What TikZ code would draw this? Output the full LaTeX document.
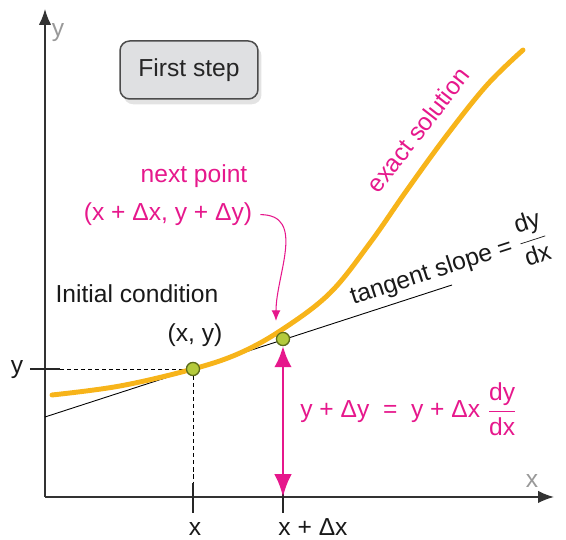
\documentclass[tikz,border=0pt]{standalone}
\usepackage{fontspec}
\setmainfont{Liberation Sans}
\usetikzlibrary{arrows.meta,shadows}

\definecolor{solorange}{HTML}{F7B41A}
\definecolor{notemagenta}{HTML}{E6188C}
\definecolor{dotgreen}{HTML}{B4CA3C}
\definecolor{dotedge}{HTML}{5C6C1A}
\definecolor{boxgray}{HTML}{DFE0E2}

\begin{document}
\begin{tikzpicture}[
	x=0.02cm, y=0.02cm,
	font=\fontsize{14}{17}\selectfont,
	txt/.style={inner sep=0pt, text=black!90},
	pinktxt/.style={inner sep=0pt, text=notemagenta},
	axislabel/.style={inner sep=0pt, text=black!40},
	axis/.style={-{Latex[length=9pt,width=7pt]}, line width=0.9pt, draw=black!80},
	tick/.style={line width=1.6pt, draw=black!85},
	guide/.style={line width=0.5pt, dash pattern=on 2.3pt off 1.7pt},
	tangent/.style={line width=0.5pt},
	exact/.style={line width=2.8pt, draw=solorange, line cap=round},
	dot/.style={circle, draw=dotedge, fill=dotgreen, line width=0.7pt, minimum size=0.26cm, inner sep=0pt},
	stepbox/.style={
		rectangle,
		rounded corners=5.5pt,
		draw=black!70,
		fill=boxgray,
		line width=0.85pt,
		minimum width=2.76cm,
		minimum height=1.16cm,
		text=black!85,
		drop shadow={opacity=0.22, shadow xshift=2pt, shadow yshift=-3pt}
	},
	deltaarrow/.style={{Latex[length=12pt,width=10pt]}-{Latex[length=13pt,width=10pt]}, line width=1.7pt, draw=notemagenta},
	nextarrow/.style={-{Latex[length=6pt,width=5pt]}, line width=0.6pt, draw=notemagenta}
]
\useasboundingbox (0,0) rectangle (566,540);

% Ejes
\coordinate (O) at (45,43);
\coordinate (ytop) at (45,531);
\coordinate (xend) at (554,43);
\draw[axis] (O) -- (ytop);
\draw[axis] (O) -- (xend);
\node[axislabel, anchor=base] (ylab) at (58,503) {y};
\node[axislabel, anchor=base] (xlab) at (532,52) {x};

% Caja del paso
\node[stepbox] (first) at (189,470) {First step};

% Recta tangente
\coordinate (tl) at (45,123);
\coordinate (tr) at (452,255);
\draw[tangent] (tl) -- (tr);

% Puntos
\node[dot] (A) at (193,171) {};
\node[dot] (B) at (283,201) {};
\coordinate (Ay) at (60,171);
\coordinate (Ax) at (193,57);
\coordinate (Bx) at (283,43);

% Lineas guia
\draw[guide] (Ay) -- (A);
\draw[guide] (A) -- (Ax);

% Marcas
\draw[tick] (30,171) -- (60,171);
\draw[tick] (193,27) -- (193,57);
\draw[tick] (283,27) -- (283,57);

% Solucion exacta
\draw[exact] plot[smooth, tension=0.6] coordinates {(52,145) (120,154) (193,171) (240,187) (283,211) (330,247) (370,297) (407,350) (447,405) (487,455) (523,490)};
\node[dot] at (A) {};
\node[dot] at (B) {};

% Incremento
\draw[deltaarrow] (B.south) -- (Bx);

% Etiquetas
\node[txt, anchor=base] (yval) at (17,166) {y};
\node[txt, anchor=base] (xval) at (195,4) {x};
\node[txt, anchor=base] (xdx) at (313,4) {x + Δx};
\node[txt, anchor=base] (init) at (137,237) {Initial condition};
\node[txt, anchor=base] (xy) at (195,198) {(x, y)};
\node[pinktxt, anchor=base] (next) at (194,357) {next point};
\node[pinktxt, anchor=base] (nextxy) at (168,319) {(x + Δx, y + Δy)};
\node[pinktxt, rotate=52] (exlab) at (418,410) {exact solution};
\node[txt, anchor=base west, rotate=18] (slope) at (353,235)
	{tangent slope =\ $\displaystyle\frac{\mbox{dy}}{\mbox{dx}}$};
\node[pinktxt, anchor=base west] (euler) at (300,122)
	{y + Δy\ \ =\ \ y + Δx $\displaystyle\frac{\mbox{dy}}{\mbox{dx}}$};

% Flecha curva
\coordinate (tip) at (276,219);
\draw[nextarrow] ([xshift=4.5pt]nextxy.east) to[out=0, in=90, looseness=1.1] (tip);

\end{tikzpicture}
\end{document}
